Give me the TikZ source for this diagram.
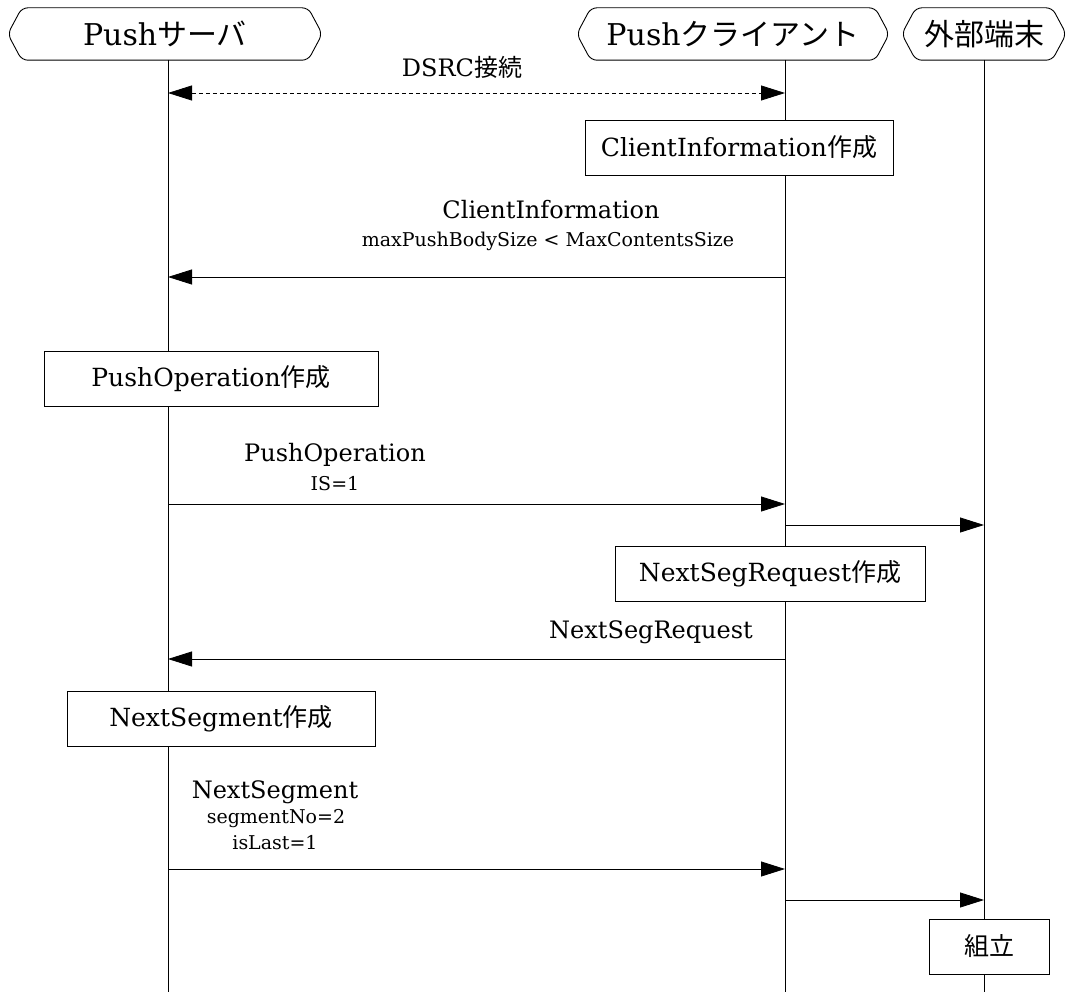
\documentclass[tikz,border=0pt]{standalone}
\usepackage{fontspec}
\setmainfont{DejaVu Serif}
\newfontfamily\jpfont{Noto Sans CJK JP}
\usetikzlibrary{arrows.meta, positioning}

\tikzset{
  actor/.style={minimum height=52pt, inner sep=0pt, font=\fontsize{30}{33}\selectfont},
  actline/.style={line width=0.9pt, rounded corners=6pt},
  workbox/.style={draw, fill=white, minimum height=55pt, inner sep=0pt, line width=0.8pt, font=\fontsize{25}{28}\selectfont},
  life/.style={line width=0.8pt},
  msg/.style={-{Triangle[length=24pt,width=15pt]}, line width=0.8pt},
  msgboth/.style={{Triangle[length=24pt,width=15pt]}-{Triangle[length=24pt,width=15pt]}, line width=0.8pt, dash pattern=on 4pt off 3pt},
  lbl/.style={font=\fontsize{24}{27}\selectfont, inner sep=0pt},
  sublbl/.style={font=\fontsize{19}{22}\selectfont, inner sep=0pt},
}

\begin{document}
\begin{tikzpicture}[x=1pt, y=-1pt]
  \useasboundingbox (0,0) rectangle (1071,992);

  % actors
  \node[actor, minimum width=314pt] (srv) at (165,34) {Push{\jpfont サーバ}};
  \node[actor, minimum width=312pt] (cli) at (733,34) {Push{\jpfont クライアント}};
  \node[actor, minimum width=164pt] (ext) at (984,34) {{\jpfont 外部端末}};
  \foreach \a in {srv,cli,ext}
    \draw[actline] ([xshift=14pt]\a.north west) -- ([xshift=-14pt]\a.north east) -- (\a.east)
      -- ([xshift=-14pt]\a.south east) -- ([xshift=14pt]\a.south west) -- (\a.west) -- cycle;

  % lifelines
  \coordinate (srvtop) at (168,60);
  \coordinate (srvbot) at (168,992);
  \coordinate (clitop) at (785,60);
  \coordinate (clibot) at (785,992);
  \coordinate (exttop) at (984,60);
  \coordinate (extbot) at (984,992);
  \draw[life] (srvtop) -- (srvbot);
  \draw[life] (clitop) -- (clibot);
  \draw[life] (exttop) -- (extbot);

  % message rows
  \coordinate (r1) at (0,93);
  \coordinate (r2) at (0,277);
  \coordinate (r3) at (0,504);
  \coordinate (r4) at (0,525);
  \coordinate (r5) at (0,659);
  \coordinate (r6) at (0,869);
  \coordinate (r7) at (0,900);

  % DSRC
  \node[lbl] (dsrc) at (462,67) {DSRC{\jpfont 接続}};
  \draw[msgboth] (srvtop |- r1) -- (clitop |- r1);

  % ClientInformation
  \node[workbox, minimum width=308pt] (ciwork) at (739,147.5) {ClientInformation{\jpfont 作成}};
  \node[lbl] (cilbl) at (551,210) {ClientInformation};
  \node[sublbl] (cisub) at (548,241) {maxPushBodySize < MaxContentsSize};
  \draw[msg] (clitop |- r2) -- (srvtop |- r2);

  % PushOperation
  \node[workbox, minimum width=334pt] (powork) at (211,379) {PushOperation{\jpfont 作成}};
  \node[lbl] (polbl) at (335,455) {PushOperation};
  \node[sublbl] (posub) at (335,484) {IS=1};
  \draw[msg] (srvtop |- r3) -- (clitop |- r3);
  \draw[msg] (clitop |- r4) -- (exttop |- r4);

  % NextSegRequest
  \node[workbox, minimum width=310pt] (nrwork) at (770,573.5) {NextSegRequest{\jpfont 作成}};
  \node[lbl] (nrlbl) at (651,632) {NextSegRequest};
  \draw[msg] (clitop |- r5) -- (srvtop |- r5);

  % NextSegment
  \node[workbox, minimum width=308pt] (nswork) at (221,718.5) {NextSegment{\jpfont 作成}};
  \node[lbl] (nslbl) at (275,792) {NextSegment};
  \node[sublbl] (nssub1) at (276,819) {segmentNo=2};
  \node[sublbl] (nssub2) at (275,843) {isLast=1};
  \draw[msg] (srvtop |- r6) -- (clitop |- r6);
  \draw[msg] (clitop |- r7) -- (exttop |- r7);

  % assembly
  \node[workbox, minimum width=120pt] (asm) at (989,946.5) {{\jpfont 組立}};
\end{tikzpicture}
\end{document}
